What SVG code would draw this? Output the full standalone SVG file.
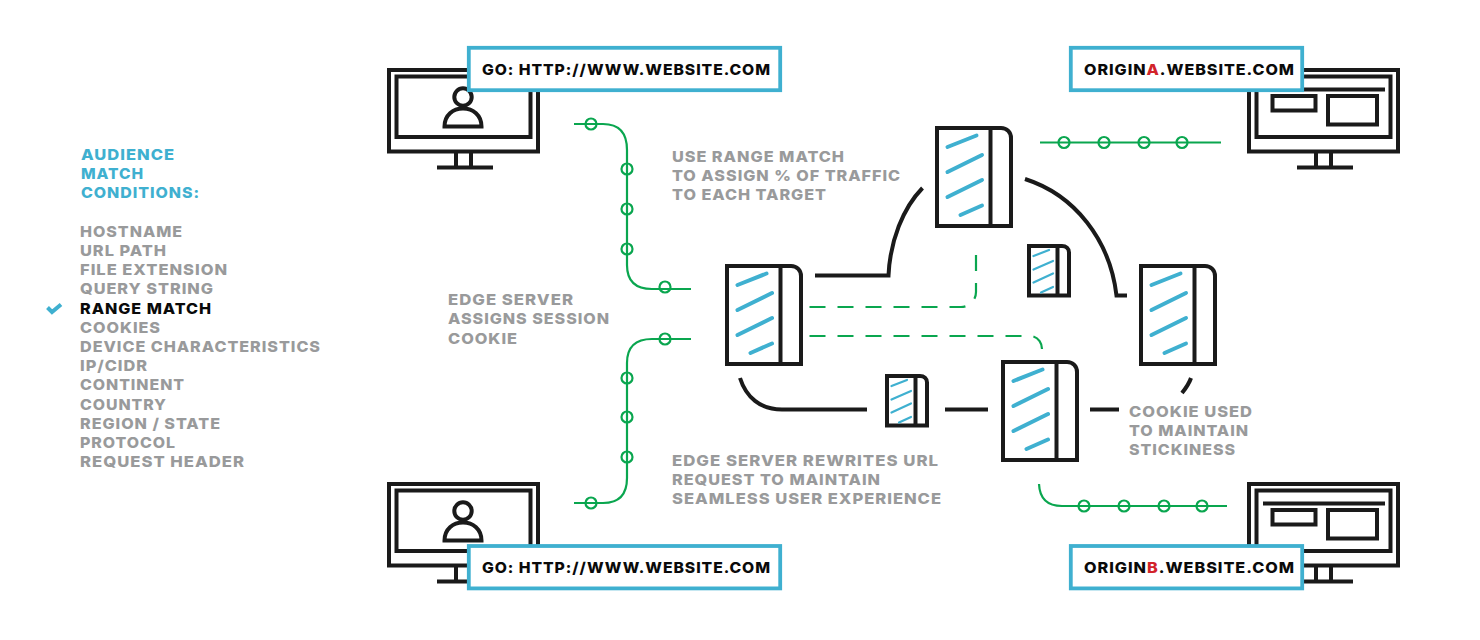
<svg xmlns="http://www.w3.org/2000/svg" width="1480" height="640" viewBox="0 0 1480 640">
<style>
text{font-family:Inter,"Liberation Sans",sans-serif;font-weight:800;font-size:15.2px;letter-spacing:.9px}
.g{fill:#999a9b}.b{fill:#3fb0d0}.k{fill:#0a0a0a}.r{fill:#d2232a}
.ln{fill:none;stroke:#1a1a1a;stroke-width:4}
.con{fill:none;stroke:#1a1a1a;stroke-width:4}
.gr{fill:none;stroke:#0aa64f;stroke-width:2.200}
.dash{stroke-dasharray:16 12}
.st{fill:none;stroke:#3fb0d0;stroke-width:4;stroke-linecap:round}
.st2{fill:none;stroke:#3fb0d0;stroke-width:2.200;stroke-linecap:round}
.lab{fill:#fff;stroke:#3fb0d0;stroke-width:3.800}
</style>
<defs>
<g id="monitor">
<path class="ln" d="M389 70H538V151.500H389Z"/>
<path class="ln" d="M396.500 76.500H530.500V137H396.500Z"/>
<path class="ln" d="M456 152V168M471 152V168M437 167.500H493"/>
</g>
<g id="person">
<circle class="ln" cx="463" cy="97" r="8.700"/>
<path class="ln" d="M444.500 126.500C444.500 115 453 108.500 463 108.500C473 108.500 481.500 115 481.500 126.500Z"/>
</g>
<g id="screen">
<path class="ln" d="M1263 89.500H1385"/>
<path class="ln" d="M1272.500 96H1315.500V110.500H1272.500Z"/>
<path class="ln" d="M1328 96H1377V124.500H1328Z"/>
</g>
<g id="srv">
<path class="ln" d="M2 2H66C72 2 76 6.500 76 12V100H2Z"/>
<path class="ln" d="M55.500 2V100"/>
<path class="st" d="M12.500 21L41.500 9.500M12.500 46L47 29M12.500 71L47 54M25.500 89L47 79.500"/>
</g>
<g id="srvs">
<path class="ln" d="M2 2H35C39 2 42 4.500 42 8.500V51.500H2Z"/>
<path class="ln" d="M30.500 2V51.500"/>
<path class="st2" d="M6.500 12L22 6M6.500 25.500L26 17M6.500 38.500L26 29.500M14 48.500L26 43"/>
</g>
</defs>

<g id="connectors">
<path class="con" d="M815 275.500H888.500C890 241 903 208 922.500 188"/>
<path class="con" d="M1025 179C1075 195 1110 240 1116.500 295.500H1127"/>
<path class="con" d="M740 378C746 397 760 409.500 782 409.500H867"/>
<path class="con" d="M945 409.500H988M1090 409.500H1119"/>
<path class="con" d="M1191 378C1189 384 1186 388 1182 393"/>
<path class="gr" d="M574 124H603Q627 124 627 150V265Q627 289 652 289H691"/>
<path class="gr" d="M574 503H603Q627 503 627 478V363Q627 339 652 339H691"/>
<path class="gr" d="M1040 142.500H1221"/>
<path class="gr" d="M1039 484Q1040 506 1062 506H1227"/>
<path class="gr dash" d="M809.500 307H961A15 15 0 0 0 976 292V254"/>
<path class="gr dash" d="M809.500 336H1030A12 13 0 0 1 1042 349"/>
<g class="gr">
<circle cx="591" cy="124" r="5.500"/><circle cx="627" cy="169" r="5.500"/><circle cx="627" cy="209" r="5.500"/><circle cx="627" cy="249" r="5.500"/><circle cx="665" cy="287" r="5.500"/>
<circle cx="591" cy="503" r="5.500"/><circle cx="627" cy="457" r="5.500"/><circle cx="627" cy="417" r="5.500"/><circle cx="627" cy="378" r="5.500"/><circle cx="665" cy="339" r="5.500"/>
<circle cx="1064" cy="142.500" r="5.500"/><circle cx="1104" cy="142.500" r="5.500"/><circle cx="1144" cy="142.500" r="5.500"/><circle cx="1182" cy="142.500" r="5.500"/>
<circle cx="1084" cy="506" r="5.500"/><circle cx="1124" cy="506" r="5.500"/><circle cx="1164" cy="506" r="5.500"/><circle cx="1202" cy="506" r="5.500"/>
</g>
</g>

<g id="client-top"><use href="#monitor"/><use href="#person"/>
<rect class="lab" x="468.800" y="47.800" width="311.400" height="42.400"/>
<text class="k" lengthAdjust="spacingAndGlyphs" x="482" y="75" textLength="289">GO: HTTP://WWW.WEBSITE.COM</text></g>
<g id="client-bottom"><use href="#monitor" y="414"/><use href="#person" y="414"/>
<rect class="lab" x="468.800" y="546" width="311.400" height="42.400"/>
<text class="k" lengthAdjust="spacingAndGlyphs" x="482" y="573" textLength="289">GO: HTTP://WWW.WEBSITE.COM</text></g>
<g id="origin-a"><use href="#monitor" x="860"/><use href="#screen"/>
<rect class="lab" x="1070.800" y="47.800" width="231.400" height="42.400"/>
<text class="k" lengthAdjust="spacingAndGlyphs" x="1084" y="75" textLength="211">ORIGIN<tspan class="r">A</tspan>.WEBSITE.COM</text></g>
<g id="origin-b"><use href="#monitor" x="860" y="414"/><use href="#screen" y="414"/>
<rect class="lab" x="1070.800" y="546" width="231.400" height="42.400"/>
<text class="k" lengthAdjust="spacingAndGlyphs" x="1084" y="573" textLength="211">ORIGIN<tspan class="r">B</tspan>.WEBSITE.COM</text></g>

<g id="server-edge"><use href="#srv" x="725" y="264"/></g>
<g id="server-top"><use href="#srv" x="935" y="126"/></g>
<g id="server-right"><use href="#srv" x="1139" y="264"/></g>
<g id="server-bottom"><use href="#srv" x="1001" y="360"/></g>
<g id="server-small-a"><use href="#srvs" x="1027" y="244"/></g>
<g id="server-small-b"><use href="#srvs" x="885" y="374"/></g>

<g id="conditions">
<text class="b" lengthAdjust="spacingAndGlyphs" x="81" y="160" textLength="94">AUDIENCE</text>
<text class="b" lengthAdjust="spacingAndGlyphs" x="81" y="179" textLength="63">MATCH</text>
<text class="b" lengthAdjust="spacingAndGlyphs" x="81" y="198" textLength="119">CONDITIONS:</text>
<text class="g" lengthAdjust="spacingAndGlyphs" x="80" y="236.500" textLength="103">HOSTNAME</text>
<text class="g" lengthAdjust="spacingAndGlyphs" x="80" y="256" textLength="87">URL PATH</text>
<text class="g" lengthAdjust="spacingAndGlyphs" x="80" y="275" textLength="148">FILE EXTENSION</text>
<text class="g" lengthAdjust="spacingAndGlyphs" x="80" y="294" textLength="134">QUERY STRING</text>
<path d="M47.500 307.500L52 312L61 304.500" fill="none" stroke="#3fb0d0" stroke-width="4"/>
<text class="k" lengthAdjust="spacingAndGlyphs" x="80" y="313.500" textLength="132">RANGE MATCH</text>
<text class="g" lengthAdjust="spacingAndGlyphs" x="80" y="333" textLength="81">COOKIES</text>
<text class="g" lengthAdjust="spacingAndGlyphs" x="80" y="352" textLength="241">DEVICE CHARACTERISTICS</text>
<text class="g" lengthAdjust="spacingAndGlyphs" x="80" y="371" textLength="68">IP/CIDR</text>
<text class="g" lengthAdjust="spacingAndGlyphs" x="80" y="390" textLength="105">CONTINENT</text>
<text class="g" lengthAdjust="spacingAndGlyphs" x="80" y="410" textLength="87">COUNTRY</text>
<text class="g" lengthAdjust="spacingAndGlyphs" x="80" y="429" textLength="141">REGION / STATE</text>
<text class="g" lengthAdjust="spacingAndGlyphs" x="80" y="448" textLength="96">PROTOCOL</text>
<text class="g" lengthAdjust="spacingAndGlyphs" x="80" y="467" textLength="165">REQUEST HEADER</text>
</g>
<g id="notes">
<text class="g" lengthAdjust="spacingAndGlyphs" x="672" y="161.500" textLength="173">USE RANGE MATCH</text>
<text class="g" lengthAdjust="spacingAndGlyphs" x="672" y="180.500" textLength="229">TO ASSIGN % OF TRAFFIC</text>
<text class="g" lengthAdjust="spacingAndGlyphs" x="672" y="199.500" textLength="155">TO EACH TARGET</text>
<text class="g" lengthAdjust="spacingAndGlyphs" x="448" y="305" textLength="126">EDGE SERVER</text>
<text class="g" lengthAdjust="spacingAndGlyphs" x="448" y="324" textLength="162">ASSIGNS SESSION</text>
<text class="g" lengthAdjust="spacingAndGlyphs" x="448" y="343.500" textLength="70">COOKIE</text>
<text class="g" lengthAdjust="spacingAndGlyphs" x="672" y="465.500" textLength="267">EDGE SERVER REWRITES URL</text>
<text class="g" lengthAdjust="spacingAndGlyphs" x="672" y="484.500" textLength="209">REQUEST TO MAINTAIN</text>
<text class="g" lengthAdjust="spacingAndGlyphs" x="672" y="503.500" textLength="270">SEAMLESS USER EXPERIENCE</text>
<text class="g" lengthAdjust="spacingAndGlyphs" x="1129" y="416.500" textLength="124">COOKIE USED</text>
<text class="g" lengthAdjust="spacingAndGlyphs" x="1129" y="435.500" textLength="120">TO MAINTAIN</text>
<text class="g" lengthAdjust="spacingAndGlyphs" x="1129" y="454.500" textLength="107">STICKINESS</text>
</g>
</svg>
